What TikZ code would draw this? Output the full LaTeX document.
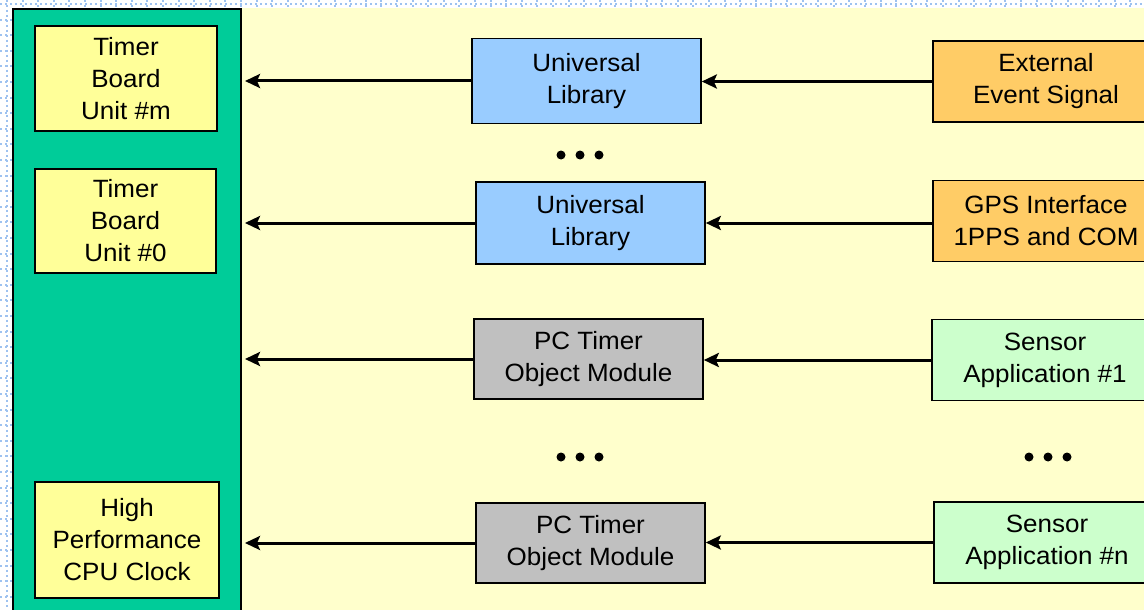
\documentclass[tikz,border=0pt]{standalone}
\usepackage{fontspec}
\setmainfont{Liberation Sans}[FakeStretch=1.04]
\usetikzlibrary{arrows.meta}

\definecolor{gridblue}{HTML}{9EC2F0}
\definecolor{cream}{HTML}{FFFFCC}
\definecolor{panelgreen}{HTML}{00CC99}
\definecolor{unitYellow}{HTML}{FFFF99}
\definecolor{libBlue}{HTML}{99CCFF}
\definecolor{srcOrange}{HTML}{FFCC66}
\definecolor{modGray}{HTML}{C0C0C0}
\definecolor{appGreen}{HTML}{CCFFCC}

\tikzset{
  box/.style={draw=black, line width=1.6pt, inner sep=0pt, align=center,
    font=\fontsize{25}{32}\selectfont, text=black},
  unitbox/.style={box, fill=unitYellow},
  libbox/.style={box, fill=libBlue},
  srcbox/.style={box, fill=srcOrange},
  modbox/.style={box, fill=modGray},
  appbox/.style={box, fill=appGreen},
  flow/.style={line width=3pt, -{Stealth[length=15pt, width=14pt, inset=3pt]}},
  dotmark/.style={circle, fill=black, inner sep=0pt, minimum size=9pt},
  gridline/.style={gridblue, line width=2pt, dash pattern=on 2pt off 3pt},
}

\begin{document}
\begin{tikzpicture}[x=1pt, y=-1pt]
  \useasboundingbox (0,0) rectangle (1144,610);
  \begin{scope}
    \clip (0,0) rectangle (1144,610);
    % dotted grid of the page
    \fill[white] (0,0) rectangle (1144,610);
    \foreach \gx in {7,22.6,...,1144} \draw[gridline] (\gx,0) -- (\gx,610);
    \foreach \gy in {4,19.6,...,610} \draw[gridline] (0,\gy) -- (1144,\gy);

    % drawing area and the green panel
    \fill[cream] (13,8) rectangle (1150,620);
    \draw[fill=panelgreen, line width=2.2pt] (13,9) rectangle (241,625);

    % timer units inside the panel
    \node[unitbox, minimum width=182pt, minimum height=105pt] (unitm) at (126,78.5) {Timer\\Board\\Unit \#m};
    \node[unitbox, minimum width=181pt, minimum height=104pt] (unit0) at (125.5,221) {Timer\\Board\\Unit \#0};
    \node[unitbox, minimum width=184pt, minimum height=116pt] (cpu) at (127,540) {High\\Performance\\CPU Clock};

    % middle column
    \node[libbox, minimum width=229pt, minimum height=85pt] (lib1) at (586.5,81) {Universal\\Library};
    \node[libbox, minimum width=229pt, minimum height=82pt] (lib0) at (590.5,223) {Universal\\Library};
    \node[modbox, minimum width=229pt, minimum height=80pt] (mod1) at (588.5,359) {PC Timer\\Object Module};
    \node[modbox, minimum width=229pt, minimum height=80pt] (modn) at (590.5,543) {PC Timer\\Object Module};

    % right column
    \node[srcbox, minimum width=226pt, minimum height=81pt] (ext) at (1046,81.5) {External\\Event Signal};
    \node[srcbox, minimum width=226pt, minimum height=81pt] (gps) at (1046,221) {GPS Interface\\1PPS and COM};
    \node[appbox, minimum width=226pt, minimum height=81pt] (app1) at (1045,360) {Sensor\\Application \#1};
    \node[appbox, minimum width=226pt, minimum height=81pt] (appn) at (1047,542.5) {Sensor\\Application \#n};

    % continuation marks
    \foreach \dx in {561,580,599} {
      \node[dotmark] at (\dx,155) {};
      \node[dotmark] at (\dx,457) {};
    }
    \foreach \dx in {1029,1048,1067}
      \node[dotmark] at (\dx,457) {};

    % arrow tips stop just right of the panel
    \coordinate (panelin) at (245,0);

    \draw[flow] (lib1.west) -- (lib1.west -| panelin);
    \draw[flow] (lib0.west) -- (lib0.west -| panelin);
    \draw[flow] (mod1.west) -- (mod1.west -| panelin);
    \draw[flow] (modn.west) -- (modn.west -| panelin);

    \draw[flow] (ext.west) -- (ext.west -| lib1.east);
    \draw[flow] (gps.west |- lib0.east) -- (lib0.east);
    \draw[flow] (app1.west) -- (app1.west -| mod1.east);
    \draw[flow] (appn.west) -- (appn.west -| modn.east);
  \end{scope}
\end{tikzpicture}
\end{document}
